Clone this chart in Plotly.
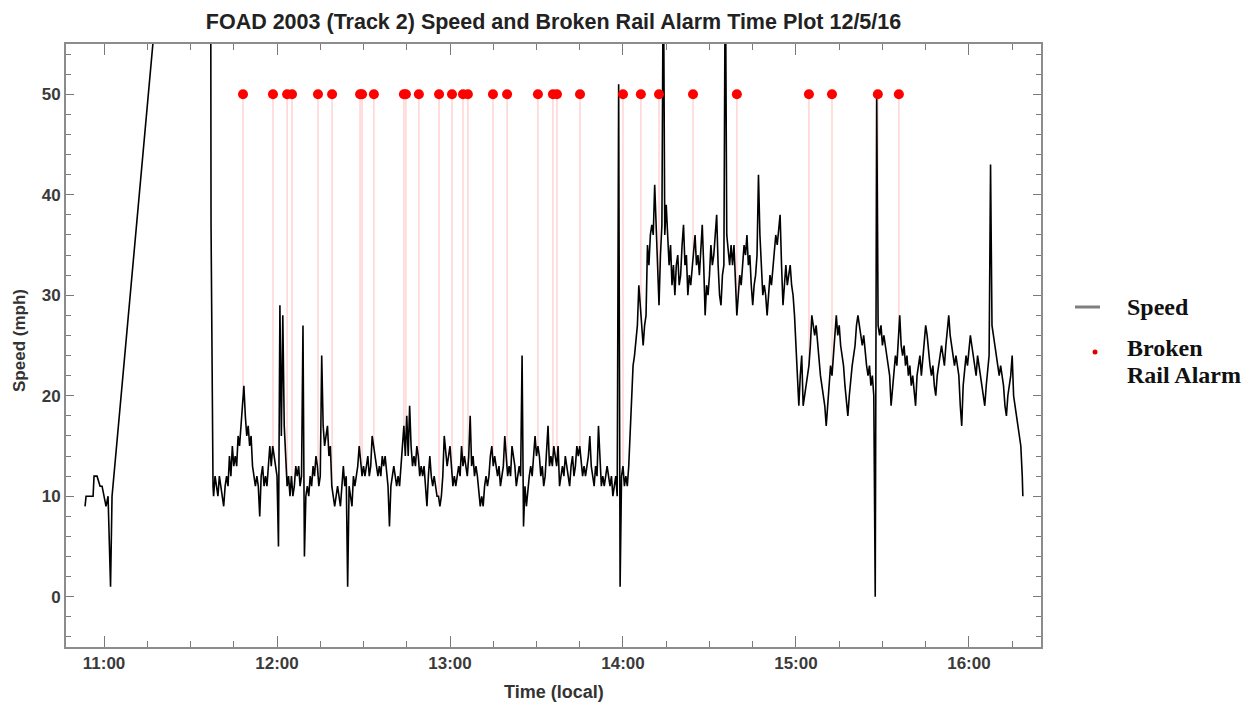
import numpy as np
import pandas as pd
import plotly.graph_objects as go

# ---------------- data ----------------
# time in minutes after 11:00 local, speed in mph
speed_minutes = [
    -6.59, -6.24, -3.81, -3.47, -2.43, -1.39, -0.69, 0.00, 0.69, 1.39, 2.25, 2.77,
    36.76, 37.11, 37.46, 37.80,
    38.0, 38.5, 39.0, 39.5, 40.0, 40.5, 41.0, 41.5, 42.0, 42.5,
    43.0, 43.5, 44.0, 44.5, 45.0, 45.5, 46.0, 46.5, 47.0, 47.5,
    48.0, 48.5, 49.0, 49.5, 50.0, 50.5, 51.0, 51.5, 52.0, 52.5,
    53.0, 53.5, 54.0, 54.5, 55.0, 55.5, 56.0, 56.5, 57.0, 57.5,
    58.0, 58.5, 59.0, 59.5, 60.0, 60.5, 61.0, 61.5, 62.0, 62.5,
    63.0, 63.5, 64.0, 64.5, 65.0, 65.5, 66.0, 66.5, 67.0, 67.5,
    68.0, 68.5, 69.0, 69.5, 70.0, 70.5, 71.0, 71.5, 72.0, 72.5,
    73.0, 73.5, 74.0, 74.5, 75.0, 75.5, 76.0, 76.5, 77.0, 77.5,
    78.0, 78.5, 79.0, 79.5, 80.0, 80.5, 81.0, 81.5, 82.0, 82.5,
    83.0, 83.5, 84.0, 84.5, 85.0, 85.5, 86.0, 86.5, 87.0, 87.5,
    88.0, 88.5, 89.0, 89.5, 90.0, 90.5, 91.0, 91.5, 92.0, 92.5,
    93.0, 93.5, 94.0, 94.5, 95.0, 95.5, 96.0, 96.5, 97.0, 97.5,
    98.0, 98.5, 99.0, 99.5, 100.0, 100.5, 101.0, 101.5, 102.0, 102.5,
    103.0, 103.5, 104.0, 104.5, 105.0, 105.5, 106.0, 106.5, 107.0, 107.5,
    108.0, 108.5, 109.0, 109.5, 110.0, 110.5, 111.0, 111.5, 112.0, 112.5,
    113.0, 113.5, 114.0, 114.5, 115.0, 115.5, 116.0, 116.5, 117.0, 117.5,
    118.0, 118.5, 119.0, 119.5, 120.0, 120.5, 121.0, 121.5, 122.0, 122.5,
    123.0, 123.5, 124.0, 124.5, 125.0, 125.5, 126.0, 126.5, 127.0, 127.5,
    128.0, 128.5, 129.0, 129.5, 130.0, 130.5, 131.0, 131.5, 132.0, 132.5,
    133.0, 133.5, 134.0, 134.5, 135.0, 135.5, 136.0, 136.5, 137.0, 137.5,
    138.0, 138.5, 139.0, 139.5, 140.0, 140.5, 141.0, 141.5, 142.0, 142.5,
    143.0, 143.5, 144.0, 144.5, 145.0, 145.5, 146.0, 146.5, 147.0, 147.5,
    148.0, 148.5, 149.0, 149.5, 150.0, 150.5, 151.0, 151.5, 152.0, 152.5,
    153.0, 153.5, 154.0, 154.5, 155.0, 155.5, 156.0, 156.5, 157.0, 157.5,
    158.0, 158.5, 159.0, 159.5, 160.0, 160.5, 161.0, 161.5, 162.0, 162.5,
    163.0, 163.5, 164.0, 164.5, 165.0, 165.5, 166.0, 166.5, 167.0, 167.5,
    168.0, 168.5, 169.0, 169.5, 170.0, 170.5, 171.0, 171.5, 172.0, 172.5,
    173.0, 173.5, 174.0, 174.5, 175.0, 175.5, 176.0, 176.5, 177.0, 177.5,
    178.0, 178.5, 179.0, 179.5, 180.0, 180.5, 181.0, 181.5, 182.0, 182.5,
    183.0, 183.5, 184.0, 184.5, 185.0, 185.5, 186.0, 186.5, 187.0, 187.5,
    188.0, 188.5, 189.0, 189.5, 190.0, 190.5, 191.0, 191.5, 192.0, 192.5,
    193.0, 193.5, 194.0, 194.5, 195.0, 195.5, 196.0, 196.5, 197.0, 197.5,
    198.0, 198.5, 199.0, 199.5, 200.0, 200.5, 201.0, 201.5, 202.0, 202.5,
    203.0, 203.5, 204.0, 204.5, 205.0, 205.5, 206.0, 206.5, 207.0, 207.5,
    208.0, 208.5, 209.0, 209.5, 210.0, 210.5, 211.0, 211.5, 212.0, 212.5,
    213.0, 213.5, 214.0, 214.5, 215.0, 215.5, 216.0, 216.5, 217.0, 217.5,
    218.0, 218.5, 219.0, 219.5, 220.0, 220.5, 221.0, 221.5, 222.0, 222.5,
    223.0, 223.5, 224.0, 224.5, 225.0, 225.5, 226.0, 226.5, 227.0, 227.5,
    228.0, 228.5, 229.0, 229.5, 230.0, 230.5, 231.0, 231.5, 232.0, 232.5,
    233.0, 233.5, 234.0, 234.5, 235.0, 235.5, 236.0, 236.5, 237.0, 237.5,
    238.0, 238.5, 239.0, 239.5, 240.0, 240.5, 241.0, 241.5, 242.0, 242.5,
    243.0, 243.5, 244.0, 244.5, 245.0, 245.5, 246.0, 246.5, 247.0, 247.5,
    248.0, 248.5, 249.0, 249.5, 250.0, 250.5, 251.0, 251.5, 252.0, 252.5,
    253.0, 253.5, 254.0, 254.5, 255.0, 255.5, 256.0, 256.5, 257.0, 257.5,
    258.0, 258.5, 259.0, 259.5, 260.0, 260.5, 261.0, 261.5, 262.0, 262.5,
    263.0, 263.5, 264.0, 264.5, 265.0, 265.5, 266.0, 266.5, 267.0, 267.5,
    268.0, 268.5, 269.0, 269.5, 270.0, 270.5, 271.0, 271.5, 272.0, 272.5,
    273.0, 273.5, 274.0, 274.5, 275.0, 275.5, 276.0, 276.5, 277.0, 277.5,
    278.0, 278.5, 279.0, 279.5, 280.0, 280.5, 281.0, 281.5, 282.0, 282.5,
    283.0, 283.5, 284.0, 284.5, 285.0, 285.5, 286.0, 286.5, 287.0, 287.5,
    288.0, 288.5, 289.0, 289.5, 290.0, 290.5, 291.0, 291.5, 292.0, 292.5,
    293.0, 293.5, 294.0, 294.5, 295.0, 295.5, 296.0, 296.5, 297.0, 297.5,
    298.0, 298.5, 299.0, 299.5, 300.0, 300.5, 301.0, 301.5, 302.0, 302.5,
    303.0, 303.5, 304.0, 304.5, 305.0, 305.5, 306.0, 306.5, 307.0, 307.5,
    308.0, 308.5, 309.0, 309.5, 310.0, 310.5, 311.0, 311.5, 312.0, 312.5,
    313.0, 313.5, 314.0, 314.5, 315.0, 315.5, 316.0, 316.5, 317.0, 317.5,
    318.0, 318.5, 318.7,
]
speed_mph = [
    9, 10, 10, 12, 12, 11, 11, 10, 9, 10, 1, 10,
    118, 37, 20, 11,
    10, 12, 11, 10, 12, 11, 10, 9, 11, 12,
    11, 14, 12, 15, 13, 14, 13, 16, 15, 17,
    20, 21, 18, 16, 17, 15, 16, 13, 12, 11,
    12, 11, 8, 12, 13, 11, 12, 11, 13, 15,
    13, 15, 14, 13, 12, 5, 29, 16, 28, 17,
    13, 11, 12, 10, 12, 10, 11, 13, 12, 13,
    11, 12, 27, 4, 10, 11, 10, 12, 11, 13,
    12, 14, 13, 11, 12, 24, 17, 15, 16, 17,
    14, 15, 11, 10, 9, 10, 11, 10, 9, 11,
    13, 11, 12, 1, 11, 10, 9, 12, 11, 12,
    13, 15, 13, 12, 13, 12, 13, 14, 12, 13,
    16, 15, 14, 13, 12, 13, 12, 14, 13, 14,
    12, 11, 7, 11, 12, 13, 12, 11, 12, 11,
    13, 15, 17, 14, 18, 14, 19, 15, 13, 14,
    13, 15, 14, 12, 13, 12, 13, 11, 9, 12,
    14, 12, 11, 12, 11, 10, 10, 9, 10, 12,
    16, 14, 13, 14, 15, 13, 11, 12, 11, 12,
    13, 12, 15, 13, 14, 13, 12, 14, 18, 13,
    14, 12, 13, 12, 10, 9, 10, 9, 11, 12,
    11, 12, 14, 15, 13, 14, 13, 12, 13, 11,
    12, 13, 16, 14, 12, 13, 12, 15, 14, 13,
    11, 12, 13, 12, 24, 7, 11, 9, 11, 12,
    13, 12, 14, 16, 14, 15, 14, 12, 13, 11,
    12, 14, 17, 13, 14, 13, 15, 14, 13, 15,
    11, 12, 13, 12, 14, 13, 12, 11, 13, 14,
    12, 13, 15, 14, 15, 13, 12, 13, 12, 13,
    14, 16, 13, 12, 11, 13, 12, 17, 13, 11,
    12, 11, 12, 13, 12, 11, 12, 10, 11, 12,
    10, 51, 1, 12, 13, 11, 12, 11, 13, 16,
    20, 23, 24, 26, 27, 31, 29, 26, 25, 27,
    28, 35, 33, 36, 37, 36, 41, 37, 33, 29,
    34, 37, 65, 36, 39, 36, 33, 35, 31, 33,
    30, 33, 34, 31, 32, 35, 37, 33, 34, 30,
    32, 31, 33, 35, 36, 33, 34, 32, 35, 37,
    33, 28, 31, 30, 32, 35, 33, 34, 36, 38,
    33, 30, 29, 32, 33, 65, 36, 34, 33, 35,
    33, 35, 31, 28, 30, 32, 31, 33, 35, 34,
    36, 33, 34, 31, 29, 31, 32, 34, 42, 36,
    33, 30, 31, 30, 28, 30, 32, 31, 33, 34,
    36, 35, 37, 38, 33, 29, 31, 33, 31, 32,
    33, 31, 30, 28, 25, 23, 19, 22, 24, 19,
    20, 21, 22, 23, 25, 28, 27, 26, 27, 25,
    24, 22, 21, 20, 19, 17, 19, 22, 23, 22,
    24, 26, 28, 26, 27, 25, 24, 23, 21, 19,
    18, 20, 22, 23, 24, 25, 27, 28, 27, 26,
    25, 26, 24, 23, 22, 23, 21, 22, 20, 0,
    50, 27, 26, 27, 25, 26, 25, 24, 23, 22,
    19, 21, 23, 24, 23, 26, 28, 25, 24, 25,
    23, 24, 22, 23, 21, 22, 20, 19, 22, 23,
    24, 22, 24, 25, 27, 26, 24, 23, 22, 23,
    21, 20, 22, 23, 24, 25, 24, 23, 25, 27,
    28, 26, 25, 24, 23, 24, 23, 22, 19, 17,
    21, 23, 24, 23, 25, 26, 25, 24, 23, 22,
    24, 23, 22, 21, 20, 19, 21, 23, 24, 43,
    27, 26, 25, 24, 23, 22, 23, 22, 21, 19,
    18, 20, 21, 22, 24, 20, 19, 18, 17, 16,
    15, 12, 10,
]
alarm_minutes = [
    48.2, 58.6, 63.5, 65.2, 74.2, 79.1, 88.8, 89.5, 93.6, 104.0, 104.7, 109.2,
    116.2, 120.7, 124.5, 126.2, 134.9, 139.8, 150.5, 155.7, 157.1, 165.1, 180.0, 186.2,
    192.5, 204.3, 219.5, 244.5, 252.5, 268.4, 275.7,
]
alarm_mph = [50] * len(alarm_minutes)

legend_labels = ["Speed", "Broken", "Rail Alarm"]
title_text = "FOAD 2003 (Track 2) Speed and Broken Rail Alarm Time Plot 12/5/16"
x_title = "Time (local)"
y_title = "Speed (mph)"

x_range_minutes = [-13.2, 325.0]
y_range = [-5, 55]

# ---------------- build figure ----------------
W, H = 1249, 707
ML, MR, MT, MB = 66, 208, 44, 60
PW, PH = W - ML - MR, H - MT - MB


def px_x(p):  # pixel -> paper x (for decorations outside the plot)
    return (p - ML) / PW


def px_y(p):  # pixel -> paper y
    return (H - MB - p) / PH


base = pd.Timestamp("2016-12-05 11:00:00")
t_speed = base + pd.to_timedelta(speed_minutes, unit="min")
t_alarm = base + pd.to_timedelta(alarm_minutes, unit="min")
x_range = [base + pd.Timedelta(minutes=m) for m in x_range_minutes]

# filling from each alarm point down to the speed curve
stem_bottom = np.interp(alarm_minutes, speed_minutes, speed_mph)
stem_x, stem_y = [], []
for t, top, bot in zip(t_alarm, alarm_mph, stem_bottom):
    stem_x += [t, t, None]
    stem_y += [top, bot, None]

fig = go.Figure()
fig.add_trace(go.Scatter(x=stem_x, y=stem_y, mode="lines",
                         line=dict(color="rgba(255,60,60,0.22)", width=1.5),
                         showlegend=False, hoverinfo="skip"))
fig.add_trace(go.Scatter(x=t_speed, y=speed_mph, mode="lines",
                         line=dict(color="#000000", width=1.6),
                         showlegend=False, name="Speed"))
fig.add_trace(go.Scatter(x=t_alarm, y=alarm_mph, mode="markers",
                         marker=dict(color="#ff0000", size=10),
                         showlegend=False, name="Broken Rail Alarm"))

# ---- manual legend (outside the plot area, on the right) ----
leg_font = dict(family="Liberation Serif, Times New Roman, serif", size=24,
                color="#111111", weight="bold")
shapes = [
    dict(type="line", xref="paper", yref="paper",
         x0=px_x(1075), x1=px_x(1100), y0=px_y(307), y1=px_y(307),
         line=dict(color="#7f7f7f", width=3)),
    dict(type="circle", xref="paper", yref="paper",
         x0=px_x(1092.5), x1=px_x(1097.5), y0=px_y(354.5), y1=px_y(349.5),
         fillcolor="#e00000", line=dict(width=0)),
]
annotations = [
    dict(text=lbl, xref="paper", yref="paper", x=px_x(1125), y=px_y(yy),
         xanchor="left", yanchor="middle", showarrow=False, font=leg_font)
    for lbl, yy in zip(legend_labels, [307, 348, 375])
]
axis_title_font = dict(family="Liberation Sans, Arial, sans-serif", size=17,
                       color="#333333", weight="bold")
annotations += [
    dict(text=x_title, xref="paper", yref="paper", x=0.5, y=px_y(692),
         xanchor="center", yanchor="middle", showarrow=False,
         font=dict(axis_title_font, size=18)),
    dict(text=y_title, xref="paper", yref="paper", x=px_x(19), y=px_y(341),
         xanchor="center", yanchor="middle", showarrow=False, textangle=-90,
         font=axis_title_font),
]

axis_common = dict(
    showline=True, linecolor="#8c8c8c", linewidth=2, mirror="ticks",
    ticks="inside", tickcolor="#7a7a7a", tickwidth=1.3,
    showgrid=False, zeroline=False, automargin=False,
    tickfont=dict(family="Liberation Sans, Arial, sans-serif", size=17,
                  color="#3a3a3a", weight="bold"),
)

fig.update_layout(
    width=W, height=H,
    margin=dict(l=ML, r=MR, t=MT, b=MB, autoexpand=False),
    paper_bgcolor="white", plot_bgcolor="white",
    showlegend=False,
    shapes=shapes, annotations=annotations,
    title=dict(text=title_text,
               x=0.5, xref="paper", xanchor="center",
               y=1 - 21 / H, yref="container", yanchor="middle",
               font=dict(family="Liberation Sans, Arial, sans-serif", size=21.5,
                         color="#222222", weight="bold")),
    xaxis=dict(axis_common, type="date", range=x_range,
               tickformat="%H:%M", dtick=3600000, tick0="2016-12-05 11:00:00",
               ticklen=11,
               minor=dict(dtick=900000, ticklen=6, ticks="inside",
                          tickcolor="#7a7a7a", tickwidth=1.2)),
    yaxis=dict(axis_common, range=y_range, dtick=10, tick0=0, ticklen=8,
               minor=dict(dtick=2, ticklen=5, ticks="inside",
                          tickcolor="#7a7a7a", tickwidth=1.2)),
)

fig.write_html("out.html")
